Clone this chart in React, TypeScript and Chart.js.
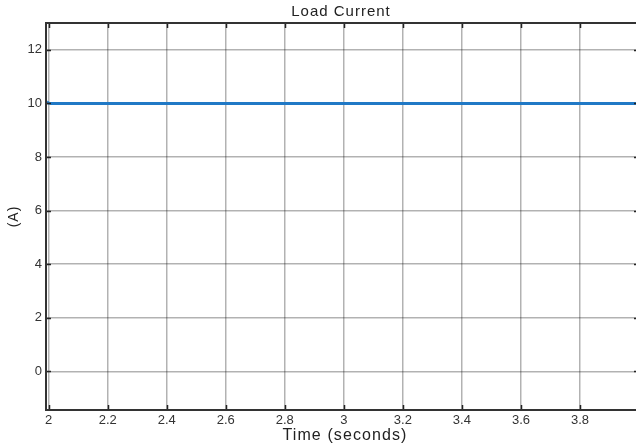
import { useEffect, useRef } from "react";
import { Chart, registerables } from "chart.js";

Chart.register(...registerables);

// ---- data ----
const timeSeconds = [1.991, 1.994, 1.997, 2.0, 2.01, 2.5, 3.0, 3.5, 4.0];
const loadCurrent = [10.06, 10.05, 10.03, 10.01, 10.0, 10.0, 10.0, 10.0, 10.0];
const xTicks = [2, 2.2, 2.4, 2.6, 2.8, 3, 3.2, 3.4, 3.6, 3.8];
const yTicks = [0, 2, 4, 6, 8, 10, 12];
const chartTitle = "Load Current";
const xTitle = "Time (seconds)";
const yTitle = "(A)";

const X_MIN = 1.991;
const X_MAX = 4.0;
const Y_MIN = -1.44;
const Y_MAX = 13;

const FONT = "'Liberation Sans', Arial, Helvetica, sans-serif";

const framePlugin = {
  id: "matlabFrame",
  afterDraw(chart: any) {
    const { ctx, chartArea, scales } = chart;
    const { left, right, top, bottom } = chartArea;
    ctx.save();
    // inward tick marks
    ctx.strokeStyle = "#222";
    ctx.lineWidth = 1.5;
    ctx.beginPath();
    for (const v of xTicks) {
      const x = Math.round(scales.x.getPixelForValue(v)) + 0.5;
      ctx.moveTo(x, bottom);
      ctx.lineTo(x, bottom - 5);
      ctx.moveTo(x, top);
      ctx.lineTo(x, top + 5);
    }
    for (const v of yTicks) {
      const y = Math.round(scales.y.getPixelForValue(v)) + 0.5;
      ctx.moveTo(left, y);
      ctx.lineTo(left + 5, y);
      ctx.moveTo(right, y);
      ctx.lineTo(right - 5, y);
    }
    ctx.stroke();
    // box
    ctx.strokeStyle = "#333";
    ctx.lineWidth = 2;
    ctx.strokeRect(left, top, right - left, bottom - top);

    // texts
    ctx.fillStyle = "#222";
    ctx.textAlign = "center";
    ctx.textBaseline = "middle";
    ctx.font = `15px ${FONT}`;
    ctx.letterSpacing = "1px";
    ctx.fillText(chartTitle, 341, 12);
    ctx.font = `16px ${FONT}`;
    ctx.letterSpacing = "1.1px";
    ctx.fillText(xTitle, 345, 436);
    ctx.font = `14px ${FONT}`;
    ctx.letterSpacing = "1px";
    ctx.translate(14, (top + bottom) / 2);
    ctx.rotate(-Math.PI / 2);
    ctx.fillText(yTitle, 0, 0);
    ctx.restore();
  },
};

export default function App() {
  const canvasRef = useRef<HTMLCanvasElement | null>(null);

  useEffect(() => {
    if (!canvasRef.current) return;
    const chart = new Chart(canvasRef.current, {
      type: "line",
      data: {
        datasets: [
          {
            label: "Load Current",
            data: timeSeconds.map((t, i) => ({ x: t, y: loadCurrent[i] })),
            borderColor: "#2079c6",
            backgroundColor: "#2079c6",
            borderWidth: 3,
            pointRadius: 0,
            tension: 0,
            fill: false,
          },
        ],
      },
      options: {
        animation: false,
        responsive: true,
        maintainAspectRatio: false,
        layout: { padding: { top: 23, right: 1, left: 0, bottom: 0 } },
        plugins: {
          legend: { display: false },
          title: { display: false },
          tooltip: { enabled: false },
        },
        scales: {
          x: {
            type: "linear",
            min: X_MIN,
            max: X_MAX,
            afterBuildTicks: (scale: any) => {
              scale.ticks = xTicks.map((v) => ({ value: v }));
            },
            afterFit: (scale: any) => {
              scale.height = 35;
            },
            ticks: {
              autoSkip: false,
              maxRotation: 0,
              padding: 3,
              color: "#333",
              font: { family: FONT, size: 13 },
              callback: (v: any) => String(Math.round(Number(v) * 10) / 10),
            },
            grid: { color: "rgba(0,0,0,0.3)", lineWidth: 1.5, drawTicks: false },
            border: { display: false },
          },
          y: {
            type: "linear",
            min: Y_MIN,
            max: Y_MAX,
            afterBuildTicks: (scale: any) => {
              scale.ticks = yTicks.map((v) => ({ value: v }));
            },
            afterFit: (scale: any) => {
              scale.width = 46;
            },
            ticks: {
              autoSkip: false,
              padding: 4,
              color: "#333",
              font: { family: FONT, size: 13 },
              callback: (v: any) => String(v),
            },
            grid: { color: "rgba(0,0,0,0.3)", lineWidth: 1.5, drawTicks: false },
            border: { display: false },
          },
        },
      },
      plugins: [framePlugin],
    });
    return () => chart.destroy();
  }, []);

  return (
    <div style={{ position: "fixed", left: 0, top: 0, width: 636, height: 445, overflow: "hidden", background: "#fff" }}>
      <div style={{ position: "relative", width: 640, height: 445 }}>
        <canvas ref={canvasRef} />
      </div>
    </div>
  );
}
